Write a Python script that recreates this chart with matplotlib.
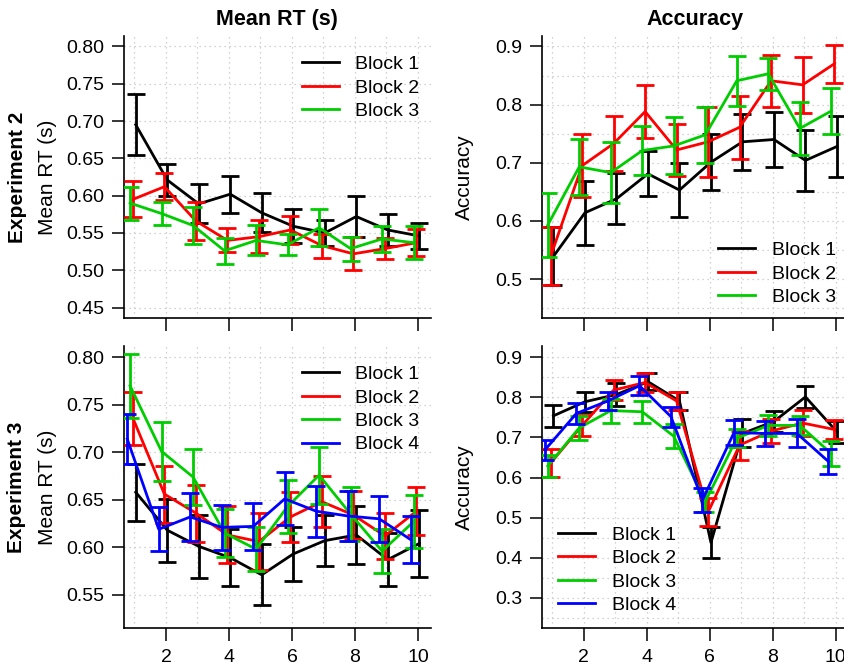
import matplotlib
matplotlib.use('Agg')
import matplotlib.pyplot as plt
import numpy as np

plt.rcParams['font.family'] = ['Liberation Sans', 'DejaVu Sans']

trials = np.arange(1, 11)
blocks = ['Block 1', 'Block 2', 'Block 3', 'Block 4']
colors = ['black', '#FF0000', '#00CD00', '#0000FF']
# small horizontal dodge so the error bars of each block don't overlap
dodge = [0.04, -0.05, -0.14, -0.23]

# Experiment 2, mean RT (s)
exp2_rt = [
    [0.695, 0.621, 0.589, 0.602, 0.577, 0.559, 0.550, 0.572, 0.554, 0.546],
    [0.595, 0.612, 0.566, 0.540, 0.545, 0.554, 0.533, 0.522, 0.529, 0.537],
    [0.590, 0.576, 0.560, 0.526, 0.540, 0.534, 0.557, 0.529, 0.542, 0.537],
]
exp2_rt_se = [
    [0.041, 0.021, 0.026, 0.025, 0.026, 0.023, 0.017, 0.028, 0.021, 0.017],
    [0.024, 0.018, 0.025, 0.016, 0.022, 0.019, 0.016, 0.022, 0.014, 0.018],
    [0.022, 0.015, 0.025, 0.017, 0.020, 0.014, 0.025, 0.016, 0.017, 0.022],
]

# Experiment 2, accuracy
exp2_acc = [
    [0.539, 0.614, 0.638, 0.681, 0.653, 0.701, 0.736, 0.740, 0.704, 0.728],
    [0.539, 0.695, 0.733, 0.788, 0.722, 0.736, 0.761, 0.841, 0.834, 0.870],
    [0.593, 0.693, 0.683, 0.721, 0.729, 0.748, 0.841, 0.853, 0.759, 0.789],
]
exp2_acc_se = [
    [0.050, 0.055, 0.044, 0.039, 0.047, 0.048, 0.048, 0.048, 0.053, 0.052],
    [0.050, 0.054, 0.047, 0.045, 0.045, 0.060, 0.054, 0.045, 0.048, 0.033],
    [0.055, 0.048, 0.052, 0.042, 0.049, 0.048, 0.043, 0.028, 0.046, 0.039],
]

# Experiment 3, mean RT (s)
exp3_rt = [
    [0.658, 0.618, 0.601, 0.589, 0.571, 0.593, 0.607, 0.613, 0.587, 0.604],
    [0.736, 0.656, 0.636, 0.613, 0.606, 0.632, 0.648, 0.634, 0.612, 0.638],
    [0.770, 0.701, 0.674, 0.615, 0.598, 0.643, 0.676, 0.635, 0.596, 0.627],
    [0.714, 0.619, 0.632, 0.621, 0.622, 0.651, 0.638, 0.633, 0.630, 0.608],
]
exp3_rt_se = [
    [0.030, 0.033, 0.033, 0.030, 0.032, 0.028, 0.027, 0.031, 0.028, 0.035],
    [0.028, 0.030, 0.030, 0.030, 0.030, 0.026, 0.027, 0.025, 0.024, 0.025],
    [0.034, 0.031, 0.029, 0.025, 0.023, 0.028, 0.030, 0.028, 0.023, 0.028],
    [0.026, 0.023, 0.025, 0.024, 0.025, 0.028, 0.027, 0.026, 0.024, 0.025],
]

# Experiment 3, accuracy
exp3_acc = [
    [0.754, 0.789, 0.807, 0.839, 0.791, 0.438, 0.710, 0.740, 0.801, 0.714],
    [0.636, 0.730, 0.818, 0.837, 0.791, 0.514, 0.681, 0.716, 0.736, 0.720],
    [0.629, 0.724, 0.767, 0.764, 0.703, 0.540, 0.698, 0.730, 0.730, 0.660],
    [0.669, 0.760, 0.791, 0.829, 0.752, 0.544, 0.712, 0.710, 0.710, 0.640],
]
exp3_acc_se = [
    [0.027, 0.025, 0.028, 0.021, 0.022, 0.038, 0.035, 0.027, 0.027, 0.028],
    [0.034, 0.026, 0.025, 0.023, 0.022, 0.035, 0.036, 0.029, 0.032, 0.023],
    [0.027, 0.030, 0.030, 0.028, 0.030, 0.025, 0.022, 0.026, 0.024, 0.030],
    [0.025, 0.027, 0.023, 0.023, 0.025, 0.029, 0.032, 0.032, 0.035, 0.030],
]

fig = plt.figure(figsize=(8.44, 6.68), dpi=100)

# right-hand column runs a little past the figure edge
W = 306.6 / 844
H = 282 / 668
ax_tl = fig.add_axes([124 / 844, 1 - 318 / 668, W, H])
ax_tr = fig.add_axes([541.7 / 844, 1 - 318 / 668, W, H])
ax_bl = fig.add_axes([124 / 844, 1 - 628 / 668, W, H])
ax_br = fig.add_axes([541.7 / 844, 1 - 628 / 668, W, H])

FS = 14


def draw_panel(ax, means, ses, ylim, yticks, fmt, leg_xy, show_xlabels):
    ax.set_xlim(0.667, 10.4)
    ax.set_ylim(*ylim)

    # dotted background grid: every trial, every 0.05 on y
    for gx in trials:
        ax.axvline(gx, color='#c4c4c4', lw=0.9, ls=(0, (1, 3)), zorder=0)
    for gy in np.arange(0.0, 1.0001, 0.05):
        if ylim[0] < gy < ylim[1]:
            ax.axhline(gy, color='#c4c4c4', lw=0.9, ls=(0, (1, 3)), zorder=0)

    handles = []
    for i in range(len(means)):
        eb = ax.errorbar(trials + dodge[i], means[i], yerr=ses[i],
                         color=colors[i], lw=2, elinewidth=2,
                         capsize=6.5, capthick=2, zorder=2 + i)
        handles.append(eb[0])

    ax.legend(handles, blocks[:len(means)], loc='upper left',
              bbox_to_anchor=leg_xy, frameon=False, fontsize=FS,
              borderpad=0, borderaxespad=0, handlelength=1.9,
              handletextpad=0.85, labelspacing=0.3)

    ax.set_xticks([2, 4, 6, 8, 10])
    ax.set_yticks(yticks)
    ax.set_yticklabels([fmt.format(t) for t in yticks])
    ax.tick_params(direction='out', length=9, width=1.1, labelsize=FS,
                   pad=5, labelbottom=show_xlabels)
    ax.tick_params(axis='x', pad=6)
    ax.spines['top'].set_visible(False)
    ax.spines['right'].set_visible(False)
    for s in ('left', 'bottom'):
        ax.spines[s].set_linewidth(1.2)


draw_panel(ax_tl, exp2_rt, exp2_rt_se, (0.436, 0.814),
           np.arange(0.45, 0.801, 0.05), '{:.2f}', (0.58, 0.931), False)
draw_panel(ax_tr, exp2_acc, exp2_acc_se, (0.433, 0.918),
           np.arange(0.5, 0.901, 0.1), '{:.1f}', (0.576, 0.271), False)
draw_panel(ax_bl, exp3_rt, exp3_rt_se, (0.515, 0.812),
           np.arange(0.55, 0.801, 0.05), '{:.2f}', (0.58, 0.931), True)
draw_panel(ax_br, exp3_acc, exp3_acc_se, (0.225, 0.928),
           np.arange(0.3, 0.901, 0.1), '{:.1f}', (0.054, 0.361), True)

ax_tl.set_title('Mean RT (s)', fontsize=15.5, fontweight='bold', pad=8)
ax_tr.set_title('Accuracy', fontsize=15.5, fontweight='bold', pad=8)

for ax, lab in [(ax_tl, 'Mean RT (s)'), (ax_bl, 'Mean RT (s)'),
                (ax_tr, 'Accuracy'), (ax_br, 'Accuracy')]:
    ax.set_ylabel(lab, fontsize=15)
    ax.yaxis.set_label_coords(-0.22, 0.5)

fig.text(18 / 844, 1 - 177 / 668, 'Experiment 2', rotation=90,
         fontsize=15, fontweight='bold', ha='center', va='center')
fig.text(17 / 844, 1 - 487 / 668, 'Experiment 3', rotation=90,
         fontsize=15, fontweight='bold', ha='center', va='center')

fig.savefig('out.png', dpi=100)
